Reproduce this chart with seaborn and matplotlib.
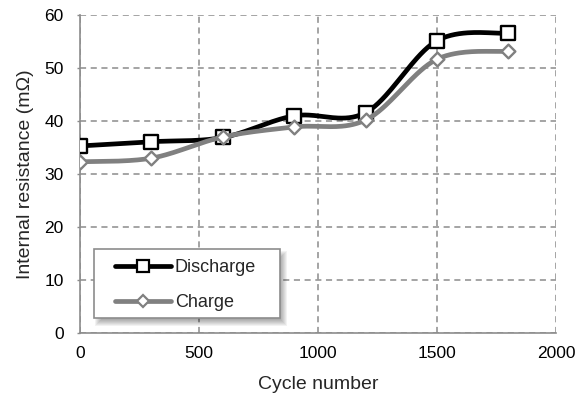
import numpy as np
import pandas as pd
import matplotlib
matplotlib.use("Agg")
import matplotlib.pyplot as plt
import seaborn as sns
from matplotlib.lines import Line2D
from matplotlib.patches import Rectangle

# Internal resistance vs. cycle number
cycles = [0, 300, 600, 900, 1200, 1500, 1800]
discharge = [35.3, 36.1, 36.9, 41.0, 41.6, 55.2, 56.6]
charge = [32.3, 33.0, 37.0, 38.9, 40.2, 51.7, 53.2]
series_names = ["Discharge", "Charge"]
x_ticks = [0, 500, 1000, 1500, 2000]
y_ticks = [0, 10, 20, 30, 40, 50, 60]


def smooth(x, y, n=40):
    """Bezier smoothing through every point (Catmull-Rom tangents)."""
    pts = np.column_stack([x, y]).astype(float)
    p = np.vstack([pts[0], pts, pts[-1]])
    t = np.linspace(0, 1, n)[:, None]
    out = []
    for i in range(1, len(p) - 2):
        p0, p1, p2, p3 = p[i - 1], p[i], p[i + 1], p[i + 2]
        c1 = p1 + (p2 - p0) / 6
        c2 = p2 - (p3 - p1) / 6
        seg = ((1 - t) ** 3) * p1 + 3 * ((1 - t) ** 2) * t * c1 \
            + 3 * (1 - t) * t ** 2 * c2 + t ** 3 * p2
        out.append(seg if i == 1 else seg[1:])
    s = np.vstack(out)
    return s[:, 0], s[:, 1]


sns.set_style("white")
plt.rcParams["font.family"] = ["Liberation Sans", "DejaVu Sans"]

fig = plt.figure(figsize=(5.86, 3.98), dpi=100)
ax = fig.add_axes([0.13652, 0.16407, 0.81229, 0.79749])

styles = {
    "Discharge": dict(color="#000000", marker="s", ms=10.0, mec="#000000", lw=3.4),
    "Charge": dict(color="#808080", marker="D", ms=7.0, mec="#808080", lw=3.4),
}
values = {"Discharge": discharge, "Charge": charge}

for z, name in enumerate(series_names):
    st = styles[name]
    sx, sy = smooth(cycles, values[name])
    curve = pd.DataFrame({"cycle": sx, "res": sy})
    sns.lineplot(data=curve, x="cycle", y="res", ax=ax, color=st["color"],
                 lw=st["lw"], sort=False, estimator=None, zorder=3 + 2 * z,
                 solid_capstyle="round")
    pts = pd.DataFrame({"cycle": cycles, "res": values[name]})
    sns.scatterplot(data=pts, x="cycle", y="res", ax=ax, marker=st["marker"],
                    s=st["ms"] ** 2, color="white", edgecolor=st["mec"],
                    linewidth=1.7, zorder=4 + 2 * z)

ax.set_xlim(0, 2000)
ax.set_ylim(0, 60)
ax.set_xticks(x_ticks)
ax.set_yticks(y_ticks)
ax.set_xticklabels([str(v) for v in x_ticks])
ax.set_yticklabels([str(v) for v in y_ticks])

grid_col = "#8c8c8c"
ax.grid(True, color=grid_col, lw=1.1, linestyle=(0, (4, 3)))
ax.set_axisbelow(True)
for side in ["top", "right"]:
    ax.spines[side].set_visible(False)
for side in ["left", "bottom"]:
    ax.spines[side].set_color(grid_col)
    ax.spines[side].set_linewidth(1.2)

ax.tick_params(axis="y", direction="out", length=2.2, width=1.0,
               color=grid_col, pad=9.5, labelsize=12.5, labelcolor="black",
               left=True)
ax.tick_params(axis="x", length=0, pad=9.5, labelsize=12.5, labelcolor="black")

ax.set_xlabel("Cycle number", fontsize=14)
ax.set_ylabel("Internal resistance (m\u03a9)", fontsize=14)
ax.xaxis.set_label_coords(0.5, -0.135)
ax.yaxis.set_label_coords(-0.097, 0.5)

# Legend frame with a soft drop shadow
px, py = 1 / 476, 1 / 317.4
x0, x1, y0, y1 = 0.0294, 0.420, 0.0463, 0.2637
for r in np.linspace(-3, 3, 7):
    ax.add_patch(Rectangle((x0 + 4 * px - r * px, y0 - 5 * py - r * py),
                           (x1 - x0) + 2 * r * px, (y1 - y0) + 2 * r * py,
                           transform=ax.transAxes, facecolor="black",
                           edgecolor="none", alpha=0.05, zorder=6))
ax.add_patch(Rectangle((x0, y0), x1 - x0, y1 - y0, transform=ax.transAxes,
                       facecolor="white", edgecolor=grid_col, lw=1.2, zorder=7))

handles = [
    Line2D([], [], color=styles[n]["color"], lw=3.4, marker=styles[n]["marker"],
           ms=8 if n == "Discharge" else 6, mfc="white", mec=styles[n]["mec"],
           mew=1.6, solid_capstyle="round")
    for n in series_names
]
leg = ax.legend(handles, series_names, loc="center left",
                bbox_to_anchor=(0.0735, 0.149), borderaxespad=0, borderpad=0,
                frameon=False, fontsize=13, handlelength=3.1,
                handletextpad=0.22, labelspacing=1.0)
leg.set_zorder(8)

fig.savefig("out.png", dpi=100)
